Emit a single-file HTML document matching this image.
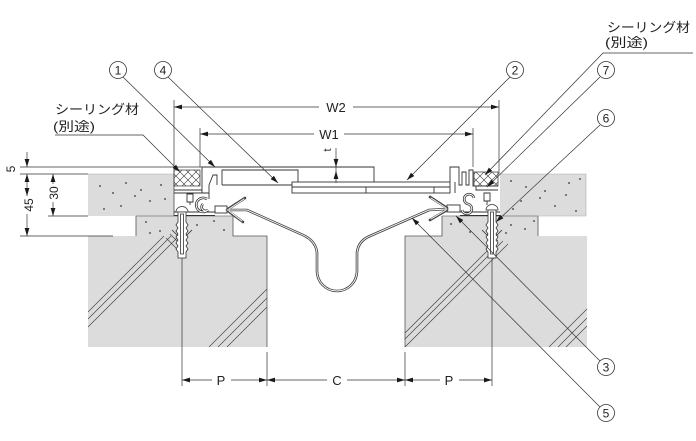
<!DOCTYPE html>
<html>
<head>
<meta charset="utf-8">
<style>
  html,body{margin:0;padding:0;background:#fff;}
  svg{display:block;}
  text{font-family:"Liberation Sans","Noto Sans CJK JP",sans-serif;fill:#222;}
</style>
</head>
<body>
<svg width="696" height="441" viewBox="0 0 696 441" xmlns="http://www.w3.org/2000/svg">
<defs>
  <marker id="a" viewBox="0 0 8 6" refX="8" refY="3" markerWidth="8" markerHeight="6" markerUnits="userSpaceOnUse" orient="auto">
    <path d="M0,0.6 L8,3 L0,5.4z" fill="#1a1a1a"/>
  </marker>
  <pattern id="xh" width="8" height="8" patternUnits="userSpaceOnUse">
    <rect width="8" height="8" fill="#fff"/>
    <path d="M-1,-1 L9,9 M9,-1 L-1,9" stroke="#333" stroke-width="0.6"/>
  </pattern>
</defs>

<!-- ===== Concrete blocks ===== -->
<g fill="#dcdcdc" stroke="none">
  <rect x="88" y="174" width="86" height="42"/>
  <rect x="136" y="216" width="97" height="20"/>
  <rect x="88" y="236" width="179" height="111"/>
  <rect x="500" y="174" width="86" height="42"/>
  <rect x="442" y="216" width="96" height="20"/>
  <rect x="405" y="236" width="182" height="111"/>
</g>
<g fill="none" stroke="#555" stroke-width="0.8">
  <path d="M136,216 V236 M233,216 V236 H267 V347"/>
  <path d="M442,216 V236 H405 V347 M538,216 V236"/>
  <path d="M136,216 H233 M442,216 H538" stroke="#777"/>
</g>
<g fill="none" stroke="#aaa" stroke-width="0.6">
  <path d="M88,174 H174 M500,174 H586 V216 M538,216 H586"/>
</g>
<!-- dots -->
<g fill="#333">
  <circle cx="100" cy="186" r="0.9"/><circle cx="113" cy="193" r="0.9"/><circle cx="126" cy="183" r="0.9"/>
  <circle cx="141" cy="190" r="0.9"/><circle cx="161" cy="185" r="0.9"/><circle cx="121" cy="206" r="0.9"/>
  <circle cx="150" cy="201" r="0.9"/><circle cx="104" cy="209" r="0.9"/><circle cx="165" cy="199" r="0.9"/>
  <circle cx="135" cy="196" r="0.9"/>
  <circle cx="146" cy="222" r="0.9"/><circle cx="160" cy="231" r="0.9"/><circle cx="197" cy="225" r="0.9"/>
  <circle cx="214" cy="221" r="0.9"/><circle cx="224" cy="230" r="0.9"/><circle cx="150" cy="233" r="0.9"/>
  <circle cx="511" cy="181" r="0.9"/><circle cx="526" cy="187" r="0.9"/><circle cx="545" cy="191" r="0.9"/>
  <circle cx="569" cy="183" r="0.9"/><circle cx="580" cy="179" r="0.9"/><circle cx="521" cy="201" r="0.9"/>
  <circle cx="555" cy="206" r="0.9"/><circle cx="576" cy="211" r="0.9"/><circle cx="540" cy="198" r="0.9"/>
  <circle cx="513" cy="209" r="0.9"/><circle cx="566" cy="195" r="0.9"/>
  <circle cx="451" cy="224" r="0.9"/><circle cx="470" cy="232" r="0.9"/><circle cx="511" cy="225" r="0.9"/>
  <circle cx="525" cy="229" r="0.9"/><circle cx="534" cy="221" r="0.9"/><circle cx="506" cy="233" r="0.9"/>
</g>
<!-- hatch lines in lower blocks -->
<g stroke="#444" stroke-width="0.7" fill="none">
  <path d="M88,312 L164,236 M88,319 L171,236 M88,327 L179,236"/>
  <path d="M170,234 L184,248 M166,238 L178,250"/>
  <path d="M209,347 L267,289 M218,347 L267,298 M227,347 L267,307"/>
  <path d="M405,333 L498,240 M405,339 L503,241 M405,347 L508,244"/>
  <path d="M549,347 L587,309 M558,347 L587,318 M566,347 L587,326"/>
</g>

<!-- ===== Sealant crosshatch ===== -->
<rect x="174" y="170" width="26" height="16" fill="url(#xh)" stroke="#333" stroke-width="0.7"/>
<rect x="474" y="172" width="24" height="14" fill="url(#xh)" stroke="#333" stroke-width="0.7"/>

<!-- ===== Frames / cover plate ===== -->
<g fill="none" stroke="#333" stroke-width="0.9">
  <path d="M202,193 V167 H374 V182"/>
  <path d="M222,185 V170 H298 V182"/>
  <path d="M222,185 H292"/>
  <path d="M209,185 L213,175 H217 V185"/>
  <rect x="292" y="182" width="158" height="11" fill="#fff"/>
  <path d="M292,187 H450 M366,187 V193 M434,187 V193"/>
  <path d="M174,190 H202 M174,193 H209 M209,185 V199"/>
  <path d="M174,212 H215 M174,215.5 H215"/>
  <path d="M187,194 H193 V202 H187 Z" fill="#fff"/>
  <path d="M190,202 V205"/>
  <path d="M450,182 V167 H459 V185 H462 V172 H466 V185 H469 V170 H473 V186 H476 V190 H498"/>
  <path d="M455,193 V182 M476,186 H498"/>
  <path d="M460,212 H500 M460,215.5 H500"/>
  <path d="M484,193 H490 V201 H484 Z" fill="#fff"/>
  <path d="M487,201 V205"/>
</g>
<!-- hooks -->
<g fill="none" stroke="#333" stroke-width="2.6">
  <path d="M207,199 A7,7 0 1 0 208,210 A3.5,3.5 0 1 1 203,204"/>
  <path d="M474,198 A5,5 0 1 0 468,204 A5,5 0 1 1 462,210"/>
</g>
<g fill="none" stroke="#fff" stroke-width="1">
  <path d="M207,199 A7,7 0 1 0 208,210 A3.5,3.5 0 1 1 203,204"/>
  <path d="M474,198 A5,5 0 1 0 468,204 A5,5 0 1 1 462,210"/>
</g>
<!-- clips -->
<g fill="#fff" stroke="#333" stroke-width="0.9">
  <rect x="215" y="206" width="12" height="7"/>
  <rect x="447" y="205" width="13" height="7"/>
</g>
<!-- flexible sheet & fingers (double line) -->
<g fill="none" stroke="#444" stroke-width="2.6" stroke-linecap="round">
  <path d="M227,210 L247,210 L303,235 Q316,241 317,253 L317,271 A20,20 0 0 0 357,271 L357,253 Q358,241 370,236 L429,210 L447,209"/>
  <path d="M228,209 L245,198 M228,211 L243,222"/>
  <path d="M447,208 L430,197 M447,210 L430,220"/>
</g>
<g fill="none" stroke="#fff" stroke-width="0.9" stroke-linecap="round">
  <path d="M227,210 L247,210 L303,235 Q316,241 317,253 L317,271 A20,20 0 0 0 357,271 L357,253 Q358,241 370,236 L429,210 L447,209"/>
  <path d="M229,209 L244,199 M229,211 L242,221"/>
  <path d="M446,208 L431,198 M446,210 L431,219"/>
</g>

<!-- ===== Fasteners ===== -->
<g fill="#fff" stroke="#333" stroke-width="0.8">
  <path d="M176,212 A6,5.5 0 0 1 188,212 Z"/>
  <path d="M178,212 H186 V222 L188,225 L186,228 L188,231 L186,234 L188,237 L186,240 L188,243 L186,246 L188,249 L186,252 V258 H178 V252 L176,249 L178,246 L176,243 L178,240 L176,237 L178,234 L176,231 L178,228 L176,225 L178,222 Z"/>
  <path d="M180.5,214 V254 H183.5 V214 Z"/>
  <path d="M178,236 L172,230 M186,236 L192,230"/>
  <path d="M486,210 A6,5.5 0 0 1 498,210 Z"/>
  <path d="M488,210 H496 V222 L498,225 L496,228 L498,231 L496,234 L498,237 L496,240 L498,243 L496,246 L498,249 L496,252 V258 H488 V252 L486,249 L488,246 L486,243 L488,240 L486,237 L488,234 L486,231 L488,228 L486,225 L488,222 Z"/>
  <path d="M490.5,212 V254 H493.5 V212 Z"/>
  <path d="M488,236 L482,230 M496,236 L502,230"/>
</g>

<!-- ===== Dimension / extension lines ===== -->
<g fill="none" stroke="#333" stroke-width="0.7">
  <path d="M174,100 V216 M200,128 V167 M499,100 V174 M473,128 V167"/>
  <path d="M20,167 H202 M20,174 H88 M48,216 H88 M20,236 H113"/>
  <path d="M182,258 V386 M492,258 V386 M267,352 V386 M405,352 V386"/>
  <path d="M336,148 V183"/>
</g>
<g fill="none" stroke="#333" stroke-width="0.7" marker-end="url(#a)">
  <path d="M319,107 H174"/><path d="M353,107 H499"/>
  <path d="M314,134 H200"/><path d="M344,134 H473"/>
  <path d="M212,380 H182"/><path d="M231,380 H267"/>
  <path d="M327,380 H267"/><path d="M347,380 H405"/>
  <path d="M440,380 H405"/><path d="M459,380 H492"/>
  <path d="M27,152 V167"/><path d="M27,188 V174"/>
  <path d="M27,214 V236"/><path d="M27,188 V196"/>
  <path d="M53,184 V174"/><path d="M53,202 V216"/>
  <path d="M336,158 V167"/><path d="M336,179 V171"/>
</g>

<!-- ===== Leader lines ===== -->
<g fill="none" stroke="#333" stroke-width="0.7">
  <path d="M55,135 H143 L180,172" marker-end="url(#a)"/>
  <path d="M123,77 L215,167" marker-end="url(#a)"/>
  <path d="M168,77 L278,183" marker-end="url(#a)"/>
  <path d="M510,77 L407,180" marker-end="url(#a)"/>
  <path d="M693,53 H603 L485,175" marker-end="url(#a)"/>
  <path d="M600,77 L487,187" marker-end="url(#a)"/>
  <path d="M600,125 L496,222" marker-end="url(#a)"/>
  <path d="M600,361 L456,216" marker-end="url(#a)"/>
  <path d="M600,407 L412,218" marker-end="url(#a)"/>
</g>

<!-- circles -->
<g fill="#fff" stroke="#333" stroke-width="0.8">
  <circle cx="118" cy="70" r="8.5"/>
  <circle cx="163" cy="70" r="8.5"/>
  <circle cx="515" cy="70" r="8.5"/>
  <circle cx="606" cy="70" r="8.5"/>
  <circle cx="606" cy="118" r="8.5"/>
  <circle cx="606" cy="367" r="8.5"/>
  <circle cx="606" cy="413" r="8.5"/>
</g>
<g font-size="12" text-anchor="middle">
  <text x="118" y="74.5">1</text>
  <text x="163" y="74.5">4</text>
  <text x="515" y="74.5">2</text>
  <text x="606" y="74.5">7</text>
  <text x="606" y="122.5">6</text>
  <text x="606" y="371.5">3</text>
  <text x="606" y="417.5">5</text>
</g>

<!-- ===== Texts ===== -->
<g font-size="13">
  <text x="55" y="114" textLength="84" lengthAdjust="spacingAndGlyphs">シーリング材</text>
  <text x="53" y="131" textLength="42" lengthAdjust="spacingAndGlyphs">(別途)</text>
  <text x="607" y="32" textLength="83" lengthAdjust="spacingAndGlyphs">シーリング材</text>
  <text x="605" y="47" textLength="43" lengthAdjust="spacingAndGlyphs">(別途)</text>
</g>
<g font-size="13" text-anchor="middle">
  <text x="336" y="112">W2</text>
  <text x="329" y="139">W1</text>
  <text x="221" y="385">P</text>
  <text x="337" y="385">C</text>
  <text x="449" y="385">P</text>
</g>
<g font-size="12" text-anchor="middle">
  <text transform="translate(15,169) rotate(-90)">5</text>
  <text transform="translate(33,205) rotate(-90)">45</text>
  <text transform="translate(58,193) rotate(-90)">30</text>
  <text transform="translate(331,150) rotate(-90)" font-size="11">t</text>
</g>
</svg>
</body>
</html>
